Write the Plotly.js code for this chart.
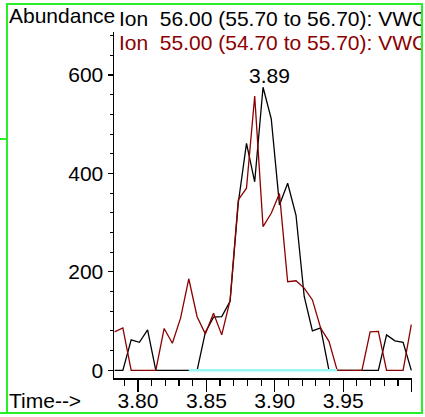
<!DOCTYPE html>
<html><head><meta charset="utf-8">
<script src="https://cdn.plot.ly/plotly-3.0.1.min.js"></script>
<style>
html,body{margin:0;padding:0;background:#fff;overflow:hidden}
#wrap{position:relative;width:425px;height:417px;background:#fff}
#chart{position:absolute;left:0;top:0;width:421px;height:417px}
.g{position:absolute;background:rgb(40,240,40)}
</style></head><body>
<div id="wrap">
<div id="chart"></div>
<div class="g" style="left:6px;top:3px;width:2px;height:411px"></div>
<div class="g" style="left:6px;top:3px;width:417px;height:2px"></div>
<div class="g" style="left:421px;top:3px;width:2px;height:411px"></div>
<div class="g" style="left:0;top:412px;width:423px;height:2px"></div>
<div class="g" style="left:0;top:138px;width:7px;height:2px"></div>
</div>
<script>
// retention times (min) of each scan
const times = [3.7829,3.7889,3.7950,3.8010,3.8070,3.8130,3.8191,3.8251,3.8311,3.8371,
  3.8432,3.8492,3.8552,3.8612,3.8673,3.8733,3.8793,3.8853,3.8914,3.8974,
  3.9034,3.9094,3.9155,3.9215,3.9275,3.9335,3.9396,3.9456,3.9516,3.9576,
  3.9637,3.9697,3.9757,3.9817,3.9878,3.9938,3.9998];
// abundance, ion 56.00
const ion56 = [0,0,62,57,82,0,0,0,0,0,
  0,77,108,109,140,340,461,383,575,511,
  336,380,315,150,80,86,0,0,0,0,
  0,0,0,72,60,57,0];
// abundance, ion 55.00
const ion55 = [78,86,0,0,0,0,85,55,106,186,
  109,74,116,72,142,346,370,557,292,319,
  359,180,182,167,143,86,59,0,0,0,
  0,78,79,0,0,0,93];
// integration baseline (scan indices)
const baselineScans = [9,27];
const baselineValues = [0,0];

const xTickVals = [3.80,3.85,3.90,3.95,4.00];
const xTickText = ['3.80','3.85','3.90','3.95',''];
const yTickVals = [0,200,400,600];
const yTickText = ['0','200','400','600'];

const label56 = 'Ion\u00a0 56.00 (55.70 to 56.70): VWG';
const label55 = 'Ion\u00a0 55.00 (54.70 to 55.70): VWG';

const W = 421, H = 417;
const L = 114.3, T = 32, B = 38.8, R = 9;
const PW = W - L - R, PH = H - T - B;
const FONT = 'Liberation Sans, Arial, sans-serif';
const FS = 21;

function px(xpx){ return (xpx - L) / PW; }
function py(ypx){ return 1 - (ypx - T) / PH; }

let imax = 0;
ion56.forEach((v,i)=>{ if (v > ion56[imax]) imax = i; });

const traces = [
  {x: times, y: ion56, mode:'lines', line:{color:'#000000', width:1.3}, hoverinfo:'skip', showlegend:false},
  {x: times, y: ion55, mode:'lines', line:{color:'rgb(139,0,0)', width:1.3}, hoverinfo:'skip', showlegend:false},
  {x: baselineScans.map(i=>times[i]), y: baselineValues, mode:'lines', line:{color:'rgb(150,245,245)', width:2.5}, hoverinfo:'skip', showlegend:false}
];

const layout = {
  width: W, height: H,
  margin: {l:L, r:R, t:T, b:B, pad:0},
  paper_bgcolor:'#ffffff', plot_bgcolor:'#ffffff',
  font: {family: FONT, size: FS, color:'#000'},
  showlegend:false,
  xaxis: {
    range:[3.78244, 4.0003], showgrid:false, zeroline:false,
    showline:true, linecolor:'#000', linewidth:1.5,
    tickmode:'array', tickvals:xTickVals, ticktext:xTickText,
    ticks:'outside', ticklen:12, tickwidth:1.2, tickcolor:'#000',
    ticklabelstandoff:-9,
    tickfont:{family:FONT, size:FS, color:'#000'},
    minor:{tick0:3.80, dtick:0.01, ticks:'outside', ticklen:6, tickwidth:1.2, tickcolor:'#000', showgrid:false}
  },
  yaxis: {
    range:[-15.6, 687.3], showgrid:false, zeroline:false,
    showline:true, linecolor:'#000', linewidth:1.5,
    tickmode:'array', tickvals:yTickVals, ticktext:yTickText,
    ticks:'outside', ticklen:5, tickwidth:1.2, tickcolor:'#000',
    tickfont:{family:FONT, size:FS, color:'#000'},
    minor:{tick0:0, dtick:40, ticks:'outside', ticklen:2.5, tickwidth:1, tickcolor:'#000', showgrid:false}
  },
  annotations: [
    {xref:'paper', yref:'paper', x:px(7), y:py(15), xanchor:'left', yanchor:'middle', text:'Abundance', showarrow:false, font:{family:FONT,size:FS,color:'#000'}},
    {xref:'paper', yref:'paper', x:px(117), y:py(18.8), xanchor:'left', yanchor:'middle', text:label56, showarrow:false, font:{family:FONT,size:FS,color:'#000'}},
    {xref:'paper', yref:'paper', x:px(117), y:py(42.5), xanchor:'left', yanchor:'middle', text:label55, showarrow:false, font:{family:FONT,size:FS,color:'rgb(139,0,0)'}},
    {xref:'paper', yref:'paper', x:px(7), y:py(400.8), xanchor:'left', yanchor:'middle', text:'Time-->', showarrow:false, font:{family:FONT,size:FS,color:'#000'}},
    {xref:'x', yref:'y', x:times[imax], y:ion56[imax], xanchor:'center', yanchor:'bottom', xshift:6, yshift:-2, text:times[imax].toFixed(2), showarrow:false, font:{family:FONT,size:FS,color:'#000'}}
  ]
};

Plotly.newPlot('chart', traces, layout, {staticPlot:true, displayModeBar:false});
</script>
</body></html>
